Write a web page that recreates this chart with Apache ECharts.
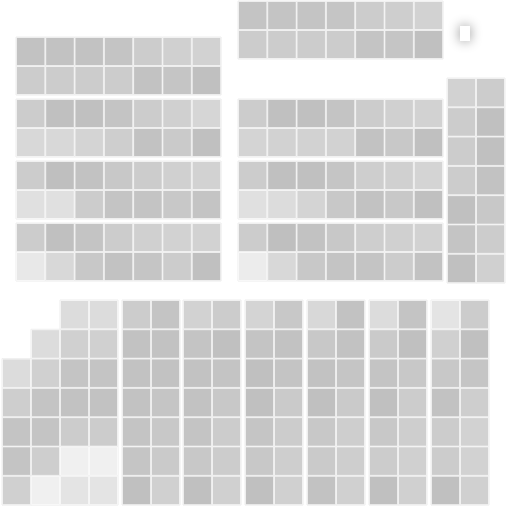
<!DOCTYPE html>
<html>
<head>
<meta charset="utf-8">
<script src="https://cdn.jsdelivr.net/npm/echarts@6/dist/echarts.min.js"></script>
<style>html,body{margin:0;padding:0;background:#fff;}#c{width:512px;height:512px;}</style>
</head>
<body>
<div id="c"></div>
<script>
// Values per block, listed in date order (two weeks per block, Sunday first)
const blockT  = [85,85,85,82,69,65,58, 69,69,69,69,85,82,92];
const blockL1 = [88,88,88,85,69,62,58, 69,69,69,69,88,82,92];
const blockL2 = [69,92,92,85,69,62,50, 46,46,54,65,88,73,92];
const blockL3 = [69,94,88,77,69,62,58, 31,31,69,85,85,77,85];
const blockL4 = [69,92,85,69,62,58,58, 15,46,77,88,82,69,92];
const blockM1 = [69,92,92,85,69,62,58, 54,58,58,58,88,77,92];
const blockM2 = [69,92,92,82,65,62,54, 31,38,54,77,88,77,92];
const blockM3 = [69,94,88,77,65,62,58,  8,46,77,85,85,69,88];
const blockR  = [58,69,69,69,92,85,92, 69,92,92,88,77,69,62];
const blockB1 = [69,88,88,88,85,82,92, 85,88,88,82,77,73,62];
const blockB2 = [58,85,88,88,85,77,92, 69,92,85,77,69,69,62];
const blockB3 = [54,85,92,92,82,77,92, 77,88,85,73,69,65,62];
const blockB4 = [46,77,88,92,77,73,88, 88,88,82,73,65,65,62];
const blockB5 = [38,73,85,92,77,69,92, 85,92,77,69,65,62,62];
const blockB6 = [23,62,77,88,69,69,92, 69,92,82,65,58,58,62];
const blockS1 = [38,62,85,85,65,0, 38,62,85,88,69,0,23, 38,62,85,88,69,0,23]; // starts Monday
const blockS2 = [38,65,85,85,62]; // starts Tuesday

function fmt(d){
  const m = d.getMonth()+1, day = d.getDate();
  return d.getFullYear()+'-'+(m<10?'0':'')+m+'-'+(day<10?'0':'')+day;
}
function dates(startDay, n){
  const out=[];
  for(let i=0;i<n;i++){ out.push(fmt(new Date(2023,0,startDay+i))); }
  return out;
}

// layout: [values, orient, left, top, startDay(Jan)]
const blocks = [
  [blockT,  'vertical', 238, 1, 1],
  [blockL1, 'vertical', 16, 37, 1],
  [blockL2, 'vertical', 16, 99, 1],
  [blockL3, 'vertical', 16, 161, 1],
  [blockL4, 'vertical', 16, 223, 1],
  [blockM1, 'vertical', 238, 99, 1],
  [blockM2, 'vertical', 238, 161, 1],
  [blockM3, 'vertical', 238, 223, 1],
  [blockR,  'horizontal', 447, 78, 1],
  [blockB1, 'horizontal', 122, 300, 1],
  [blockB2, 'horizontal', 183, 300, 1],
  [blockB3, 'horizontal', 245, 300, 1],
  [blockB4, 'horizontal', 307, 300, 1],
  [blockB5, 'horizontal', 369, 300, 1],
  [blockB6, 'horizontal', 431, 300, 1],
  [blockS1, 'horizontal', 31, 300, 2],
  [blockS2, 'horizontal', 2, 300, 3]
];

const calendars = [], series = [];
blocks.forEach((b, idx) => {
  const vals = b[0], ds = dates(b[4], vals.length);
  calendars.push({
    orient: b[1],
    left: b[2], top: b[3],
    cellSize: b[1]==='vertical' ? [29.3, 29] : [29, 29.3],
    range: [ds[0], ds[ds.length-1]],
    dayLabel: {show:false}, monthLabel:{show:false}, yearLabel:{show:false},
    splitLine: {show:false},
    itemStyle: {color:'#fff', borderColor:'#ececec', borderWidth:1}
  });
  series.push({
    type:'heatmap', coordinateSystem:'calendar', calendarIndex: idx,
    data: ds.map((d,i)=>[d, vals[i]]),
    itemStyle:{borderColor:'#fff', borderWidth:0.5}
  });
});

const chart = echarts.init(document.getElementById('c'), null, {renderer:'canvas'});
chart.setOption({
  animation:false,
  visualMap:{show:false, min:0, max:100, inRange:{color:['#f0f0f0','#bcbcbc']}},
  calendar: calendars,
  series: series,
  graphic:[{type:'rect', left:460, top:26, shape:{width:10, height:15},
    style:{fill:'#fff', shadowBlur:12, shadowColor:'rgba(0,0,0,0.45)'}}]
});
</script>
</body>
</html>
